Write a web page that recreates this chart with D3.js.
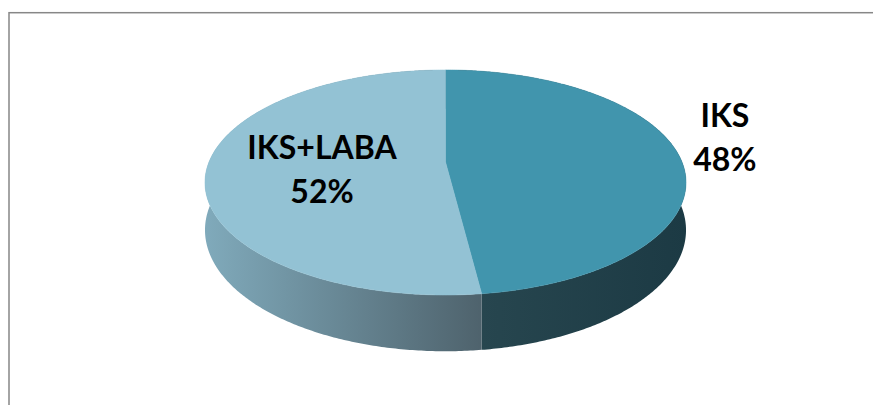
<!DOCTYPE html>
<html>
<head>
<meta charset="utf-8">
<script src="https://cdn.jsdelivr.net/npm/d3@7"></script>
<style>
  html, body { margin: 0; padding: 0; background: #fff; }
  svg { display: block; }
</style>
</head>
<body>
<svg id="chart" width="873" height="405"></svg>
<script>
/* ——— data ——————————————————————————————— */
const categories = ["IKS", "IKS+LABA"];
const values     = [48, 52];

/* ——— palette (top face / side gradient) ——————— */
const topColours  = ["#4195ad", "#93c2d4"];
const sideColours = [["#27464f", "#1c3a44"], ["#80aabb", "#4e626c"]];

const W = 873, H = 405;
const svg = d3.select("#chart");

/* ——— perspective disc ———————————————————————
   u/v are unit-disc coords (v = +1 nearest the viewer),
   divided by w to fake the camera perspective              */
const k     = 0.182;   // perspective strength
const depth = 46;      // wall height at w = 1
const cx = 445.5, cy = 162, rx = 236.5, ry = 108.8;
const x = d3.scaleLinear([-1, 1], [cx - rx, cx + rx]);
const y = d3.scaleLinear([-1, 1], [cy - ry, cy + ry]);

function proj(theta, r = 1, down = 0){
  const u = r * Math.sin(theta), v = -r * Math.cos(theta);
  const w = 1 - k * v;
  return [x(u / w), y(v / w) + down / w];
}

const pie  = d3.pie().sort(null).startAngle(0).endAngle(2 * Math.PI);
const arcs = pie(values);
const line = d3.line();

function rim(a0, a1, down){
  const n = Math.max(2, Math.ceil((a1 - a0) / 0.01));
  return d3.range(n + 1).map(i => proj(a0 + (a1 - a0) * i / n, 1, down));
}

/* ——— gradients for the walls ——————————————— */
const defs = svg.append("defs");
arcs.forEach((d, i) => {
  const xs = rim(d.startAngle, d.endAngle, 0).map(p => p[0]);
  const g = defs.append("linearGradient")
    .attr("id", `side-${i}`)
    .attr("gradientUnits", "userSpaceOnUse")
    .attr("x1", i === 0 ? d3.min(xs.filter((_, j) => j > xs.length / 2)) : d3.min(xs))
    .attr("x2", i === 0 ? d3.max(xs) : x(0) + 38)
    .attr("y1", 0).attr("y2", 0);
  g.append("stop").attr("offset", 0).attr("stop-color", sideColours[i][0]);
  g.append("stop").attr("offset", 1).attr("stop-color", sideColours[i][1]);
});

/* ——— walls ——————————————————————————————— */
svg.append("g").selectAll("path").data(arcs).join("path")
  .attr("fill", (d, i) => `url(#side-${i})`)
  .attr("d", d => {
    const top = rim(d.startAngle, d.endAngle, 0);
    const bot = rim(d.startAngle, d.endAngle, depth).reverse();
    return line(top.concat(bot)) + "Z";
  });

/* ——— top faces ——————————————————————————— */
svg.append("g").selectAll("path").data(arcs).join("path")
  .attr("fill",   (d, i) => topColours[i])
  .attr("stroke", (d, i) => topColours[i])
  .attr("stroke-width", 0.5)
  .attr("d", d => line([[x(0), y(0)]].concat(rim(d.startAngle, d.endAngle, 0))) + "Z");

/* ——— labels ——————————————————————————————— */
const placement = [{r: 1.2, dy: -16}, {r: 0.52, dy: 4}];
const labels = svg.append("g")
  .attr("font-family", "Lato, 'Open Sans', sans-serif")
  .attr("font-weight", "bold")
  .attr("font-size", 32)
  .attr("fill", "#000")
  .attr("text-anchor", "middle");

arcs.forEach((d, i) => {
  const mid = (d.startAngle + d.endAngle) / 2;
  const [lx, ly] = proj(mid, placement[i].r);
  const t = labels.append("text").attr("x", lx).attr("y", ly + placement[i].dy);
  t.append("tspan").attr("x", lx).attr("dy", -11).text(categories[i]);
  t.append("tspan").attr("x", lx).attr("dy", 44)
    .text(d3.format(".0%")(d.value / d3.sum(values)));
});

/* ——— chart-area border ——————————————————— */
svg.append("rect")
  .attr("x", 9).attr("y", 12.7)
  .attr("width", W).attr("height", H)
  .attr("fill", "none")
  .attr("stroke", "#878787")
  .attr("stroke-width", 1.5);
</script>
</body>
</html>
